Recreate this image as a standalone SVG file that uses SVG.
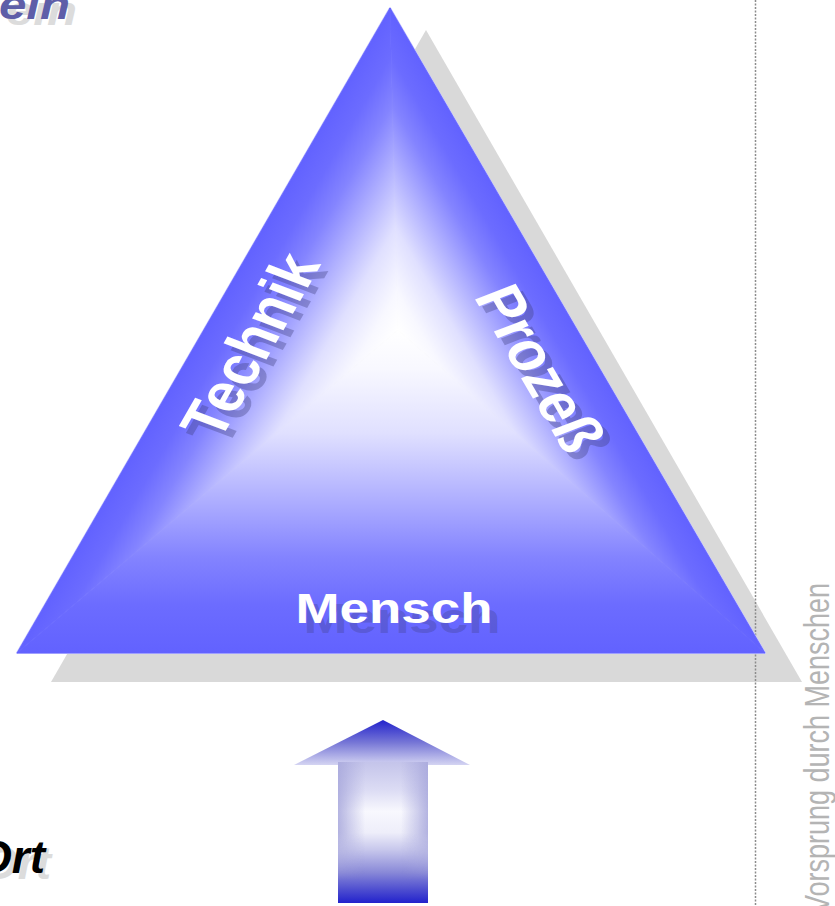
<svg xmlns="http://www.w3.org/2000/svg" width="835" height="906" viewBox="0 0 835 906">
  <style>
    .bold { font-family: "Liberation Sans", Arial, sans-serif; font-weight: bold; }
    .lbl { fill: #ffffff; font-size: 53px; }
    .lblsh { fill: #3c3c78; fill-opacity: 0.35; font-size: 53px; }
    .ttl { font-style: italic; }
  </style>
  <defs>
    <linearGradient id="gL" gradientUnits="userSpaceOnUse" x1="398" y1="330" x2="252.4" y2="245.9">
      <stop offset="0" stop-color="#ffffff"/>
      <stop offset="0.12" stop-color="#f8f8ff"/>
      <stop offset="0.32" stop-color="#e0e0ff"/>
      <stop offset="0.52" stop-color="#b0b0ff"/>
      <stop offset="0.7" stop-color="#8484ff"/>
      <stop offset="0.85" stop-color="#6c6cff"/>
      <stop offset="1" stop-color="#6262ff"/>
    </linearGradient>
    <linearGradient id="gR" href="#gL" gradientUnits="userSpaceOnUse" x1="398" y1="330" x2="531.9" y2="252.1"/>
    <linearGradient id="gB" href="#gL" gradientUnits="userSpaceOnUse" x1="398" y1="330" x2="398" y2="653"/>
    <linearGradient id="head" x1="0" y1="0" x2="0" y2="1">
      <stop offset="0" stop-color="#2222cc"/>
      <stop offset="0.5" stop-color="#7676d6"/>
      <stop offset="1" stop-color="#d4d4f2"/>
    </linearGradient>
    <linearGradient id="shaft" gradientUnits="userSpaceOnUse" x1="0" y1="762" x2="0" y2="903">
      <stop offset="0" stop-color="#c4c4ea"/>
      <stop offset="0.2" stop-color="#dcdcf4"/>
      <stop offset="0.35" stop-color="#f8f8fe"/>
      <stop offset="0.5" stop-color="#eeeefa"/>
      <stop offset="0.62" stop-color="#c8c8ec"/>
      <stop offset="0.78" stop-color="#8a8ad8"/>
      <stop offset="0.9" stop-color="#5050d0"/>
      <stop offset="1" stop-color="#2222cc"/>
    </linearGradient>
    <linearGradient id="sides" gradientUnits="userSpaceOnUse" x1="338" y1="0" x2="428" y2="0">
      <stop offset="0" stop-color="#a8a8dc" stop-opacity="0.85"/>
      <stop offset="0.3" stop-color="#a8a8dc" stop-opacity="0"/>
      <stop offset="0.7" stop-color="#a8a8dc" stop-opacity="0"/>
      <stop offset="1" stop-color="#a8a8dc" stop-opacity="0.85"/>
    </linearGradient>
    <linearGradient id="fadeV" gradientUnits="userSpaceOnUse" x1="0" y1="762" x2="0" y2="880">
      <stop offset="0" stop-color="#fff"/>
      <stop offset="0.6" stop-color="#fff"/>
      <stop offset="1" stop-color="#000"/>
    </linearGradient>
    <mask id="sideMask" maskUnits="userSpaceOnUse" x="330" y="750" width="110" height="160">
      <rect x="330" y="750" width="110" height="160" fill="url(#fadeV)"/>
    </mask>
  </defs>

  <rect width="835" height="906" fill="#ffffff"/>

  <g id="title-top">
    <text class="bold ttl" transform="translate(77,25) scale(1.23,1)" text-anchor="end" font-size="40" fill="#dcdcdc">ein</text>
    <text class="bold ttl" transform="translate(70,19) scale(1.23,1)" text-anchor="end" font-size="40" fill="#5e5ea8">ein</text>
  </g>

  <g id="title-bottom">
    <text class="bold ttl" transform="translate(51,879)" text-anchor="end" font-size="46" fill="#dcdcdc">Ort</text>
    <text class="bold ttl" transform="translate(45,873)" text-anchor="end" font-size="46" fill="#000000">Ort</text>
  </g>

  <g id="triangle-shadow">
    <polygon points="426,30 51,682 802,682" fill="#d9d9d9"/>
  </g>

  <g id="divider">
    <line x1="755.5" y1="0" x2="755.5" y2="906" stroke="#8c8c8c" stroke-width="1.5" stroke-dasharray="2 1.5"/>
  </g>

  <g id="triangle">
    <polygon points="390,8 17,653 765,653" fill="none" stroke="#c8c8ff" stroke-width="2" stroke-linejoin="round"/>
    <polygon points="398,330 390,8 17,653" fill="url(#gL)" stroke="url(#gL)" stroke-width="0.8"/>
    <polygon points="398,330 390,8 765,653" fill="url(#gR)" stroke="url(#gR)" stroke-width="0.8"/>
    <polygon points="398,330 17,653 765,653" fill="url(#gB)" stroke="url(#gB)" stroke-width="0.8"/>
  </g>

  <g id="label-technik">
    <text class="bold lblsh" transform="translate(256,352) scale(1.23,1) rotate(-65)" x="0" y="19" text-anchor="middle">Technik</text>
    <text class="bold lbl" transform="translate(249,345) scale(1.23,1) rotate(-65)" x="0" y="19" text-anchor="middle">Technik</text>
  </g>

  <g id="label-prozess">
    <text class="bold lblsh" transform="translate(548,375) scale(1.23,1) rotate(64.6)" x="0" y="19" text-anchor="middle">Prozeß</text>
    <text class="bold lbl" transform="translate(541,368) scale(1.23,1) rotate(64.6)" x="0" y="19" text-anchor="middle">Prozeß</text>
  </g>

  <g id="label-mensch">
    <text class="bold" transform="translate(402,633) scale(1.23,1)" text-anchor="middle" font-size="43" fill="#3c3c78" fill-opacity="0.3">Mensch</text>
    <text class="bold" transform="translate(394,623) scale(1.23,1)" text-anchor="middle" font-size="43" fill="#ffffff">Mensch</text>
  </g>

  <g id="connectors">
    <g id="arrow-up">
      <polygon points="383,720 470,765 294,765" fill="url(#head)"/>
      <rect x="338" y="762" width="90" height="141" fill="url(#shaft)"/>
      <rect x="338" y="762" width="90" height="141" fill="url(#sides)" mask="url(#sideMask)"/>
    </g>
  </g>

  <g id="slogan">
    <text transform="translate(829,583) scale(1.28,1) rotate(-90)" text-anchor="end" font-family="'Liberation Sans', Arial, sans-serif" font-size="27" fill="#b4b4b4">Vorsprung durch Menschen</text>
  </g>
</svg>
